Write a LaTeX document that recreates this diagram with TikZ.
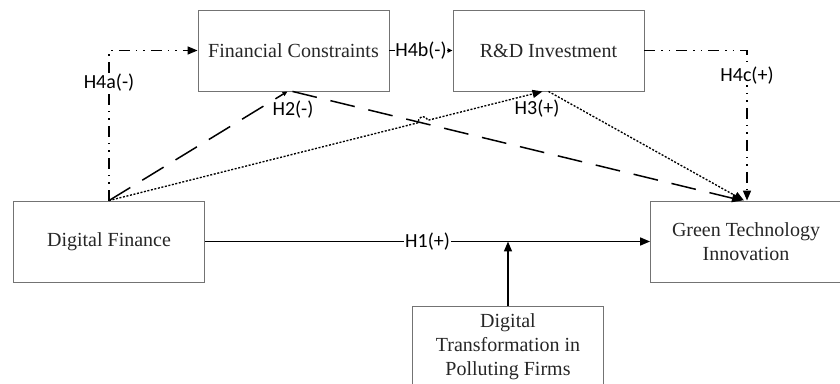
\documentclass[tikz,border=0pt]{standalone}
\usepackage{fontspec}
\setmainfont{Liberation Serif}
\newfontfamily\labelfont{Carlito}
\usetikzlibrary{arrows.meta,calc}

\begin{document}
\begin{tikzpicture}[x=1pt,y=1pt,
  box/.style={draw=black!55, line width=0.9pt, minimum width=191pt,
    minimum height=81pt, inner sep=0pt, align=center,
    font=\fontsize{20}{24}\selectfont, text=black!85},
  link/.style={line width=1.5pt, draw=black},
  tip/.style={-{Triangle[length=10pt,width=8pt]}},
  smalltip/.style={-{Triangle[length=5pt,width=4.5pt]}},
  hlabel/.style={fill=white, inner sep=1pt,
    font=\labelfont\fontsize{20}{24}\selectfont},
  dashdotdot/.style={dash pattern=on 11pt off 6pt on 1.5pt off 6pt on 1.5pt off 6pt},
  longdash/.style={dash pattern=on 25pt off 14pt},
  finedot/.style={line width=1.35pt, dash pattern=on 2pt off 1.6pt},
]
\useasboundingbox (0,0) rectangle (840,383);
\clip (0,0) rectangle (840,383);

% constructs
\node[box] (FC)  at (293.5,332.5) {Financial Constraints};
\node[box] (RD)  at (548.5,332.5) {R\&D Investment};
\node[box] (DF)  at (109,141.5)   {Digital Finance};
\node[box] (GTI) at (746,141.5)   {Green Technology\\Innovation};
\node[box] (DT)  at (508,36.5)    {Digital\\Transformation in\\Polluting Firms};

% end points of the mediation paths
\coordinate (h2in)  at ($(FC.south)+(-6,0)$);
\coordinate (h2out) at ($(FC.south)+(-1,0)$);
\coordinate (h3in)  at ($(RD.south)+(-6,0)$);
\coordinate (h3out) at ($(RD.south)+(0,0)$);
\coordinate (g2) at ($(GTI.north)+(-4,0)$);
\coordinate (g3) at ($(GTI.north)+(-2,0)$);
\coordinate (g4) at ($(GTI.north)+(1,0)$);
\coordinate (hopA) at ($(DF.north)!318.9pt!(h3in)$);
\coordinate (mod) at (DT.north |- DF.east);

% H2: digital finance -> financial constraints -> green innovation
\draw[link,longdash,smalltip] (DF.north) -- (h2in);
\draw[link,longdash,tip] (h2out) -- (g2);

% H3: digital finance -> R&D investment -> green innovation (with line jump)
\draw[link,finedot,tip] (DF.north) -- (hopA)
  arc[start angle=194.24,end angle=14.24,radius=5] -- (h3in);
\draw[link,finedot,tip] (h3out) -- (g3);

% H4: chain mediation
\draw[link,dashdotdot,tip] (DF.north) |- node[hlabel,pos=0.394] (l4a) {H4a(-)} (FC.west);
\draw[link,smalltip] (FC.east) -- node[hlabel,inner sep=0.5pt] (l4b) {H4b(-)} (RD.west);
\draw[link,dashdotdot,tip] (RD.east) -| node[hlabel,pos=0.583] (l4c) {H4c(+)} (g4);

% H1 and moderation
\draw[link,line width=1.6pt,tip] (DF.east) -- node[hlabel] (l1) {H1(+)} (GTI.west);
\draw[link,line width=1.6pt,tip] (DT.north) -- (mod);

% path labels
\node[hlabel] (l2) at ($(FC.south)+(-0.5,-18)$) {H2(-)};
\node[hlabel] (l3) at ($(RD.south)+(-11.5,-17)$) {H3(+)};
\end{tikzpicture}
\end{document}
